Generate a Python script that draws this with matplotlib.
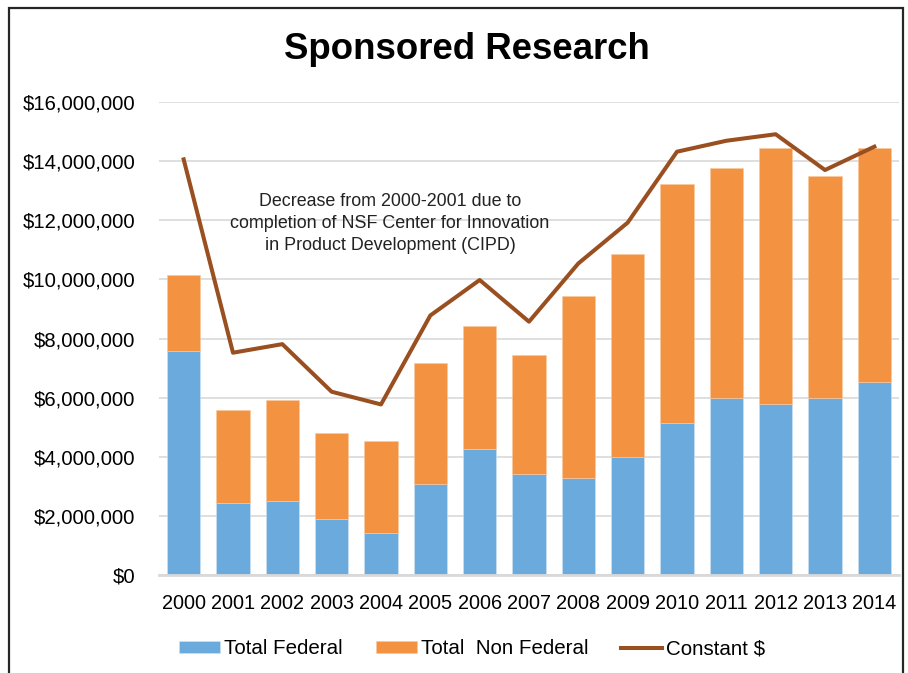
import numpy as np
import matplotlib
matplotlib.use("Agg")
from matplotlib import pyplot as plt
from matplotlib.patches import Rectangle
from matplotlib.ticker import FuncFormatter

plt.rcParams['font.family'] = ['Liberation Sans', 'DejaVu Sans']

years = ['2000', '2001', '2002', '2003', '2004', '2005', '2006', '2007',
         '2008', '2009', '2010', '2011', '2012', '2013', '2014']
federal = [7.58, 2.45, 2.51, 1.88, 1.41, 3.07, 4.25, 3.42,
           3.28, 3.98, 5.15, 5.99, 5.77, 5.99, 6.54]
total = [10.15, 5.57, 5.91, 4.80, 4.53, 7.16, 8.41, 7.44,
         9.45, 10.85, 13.22, 13.76, 14.46, 13.49, 14.46]
constant = [14.06, 7.52, 7.81, 6.20, 5.77, 8.78, 9.98, 8.57,
            10.54, 11.92, 14.32, 14.69, 14.91, 13.70, 14.49]

federal = np.array(federal) * 1e6
non_federal = np.array(total) * 1e6 - federal
constant = np.array(constant) * 1e6

blue = '#6aaadd'
orange = '#f39342'
brown = '#9a4f20'

fig = plt.figure(figsize=(9.08, 6.73), dpi=100)
ax = fig.add_axes([0.1751, 0.1456, 0.815, 0.7028])

x = np.arange(len(years))
b1 = ax.bar(x, federal, width=0.67, color=blue, edgecolor='#cfe3f4', linewidth=0.4,
            label='Total Federal', zorder=2)
b2 = ax.bar(x, non_federal, width=0.67, bottom=federal, color=orange, edgecolor='#f8c89e',
            linewidth=0.4, label='Total  Non Federal', zorder=2)
ln, = ax.plot(x, constant, color=brown, lw=2.9, label='Constant $', zorder=3)

ax.set_xlim(-0.5, len(years) - 0.5)
ax.set_ylim(0, 16e6)
ax.set_yticks(np.arange(0, 16e6 + 1, 2e6))
ax.yaxis.set_major_formatter(FuncFormatter(lambda v, p: f'${v:,.0f}'))
ax.set_xticks(x)
ax.set_xticklabels(years)
ax.tick_params(axis='both', length=0, colors='black')
ax.tick_params(axis='x', pad=14, labelsize=14.3)
ax.tick_params(axis='y', pad=17, labelsize=14.6)

ax.grid(axis='y', color='#d9d9d9', lw=1.2, zorder=0)
for side in ['top', 'right', 'left']:
    ax.spines[side].set_visible(False)
ax.spines['bottom'].set_color('#d9d9d9')
ax.spines['bottom'].set_linewidth(2)

ax.text(4.18, 11.9e6, 'Decrease from 2000-2001 due to\ncompletion of NSF Center for Innovation\n'
        'in Product Development (CIPD)', ha='center', va='center', fontsize=12.9,
        color='#222222', linespacing=1.4, zorder=4)

fig.text(0.514, 0.926, 'Sponsored Research', ha='center', va='center',
         fontsize=26.4, fontweight='bold')

fig.legend([b1, b2, ln], ['Total Federal', 'Total  Non Federal', 'Constant $'],
           loc='center', bbox_to_anchor=(0.52, 0.036), ncol=3, frameon=False,
           fontsize=14.8, handlelength=2.0, handleheight=0.55, handletextpad=0.2,
           columnspacing=1.6)

# outer frame (bottom edge is cut off in the original)
fig.patches.append(Rectangle((9 / 908, -0.05), (903 - 9) / 908, 1.05 - 8 / 673,
                             transform=fig.transFigure, fill=False,
                             edgecolor='#262626', lw=1.6))

fig.savefig('out.png', dpi=100)
